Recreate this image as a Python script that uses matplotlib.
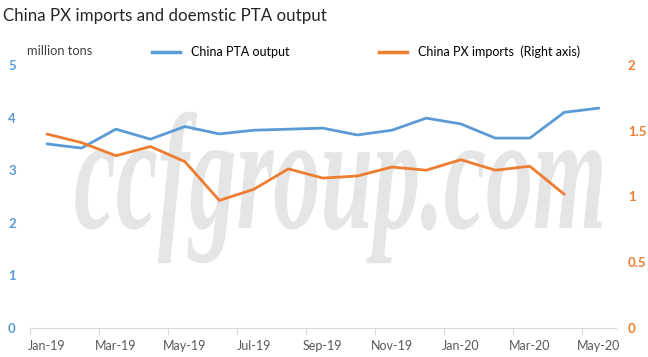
import matplotlib
matplotlib.use("Agg")
import matplotlib.pyplot as plt
import matplotlib.patheffects as pe
from matplotlib.transforms import Affine2D
from matplotlib.lines import Line2D

# 数据
months = ["Jan-19", "Feb-19", "Mar-19", "Apr-19", "May-19", "Jun-19", "Jul-19", "Aug-19",
          "Sep-19", "Oct-19", "Nov-19", "Dec-19", "Jan-20", "Feb-20", "Mar-20", "Apr-20", "May-20"]
pta_output = [3.50, 3.42, 3.78, 3.59, 3.83, 3.69, 3.76, 3.78,
              3.80, 3.67, 3.76, 3.99, 3.88, 3.61, 3.61, 4.10, 4.18]
px_imports = [1.475, 1.41, 1.31, 1.38, 1.265, 0.97, 1.055, 1.21,
              1.14, 1.156, 1.224, 1.20, 1.28, 1.20, 1.23, 1.017]

left_ticks = [0, 1, 2, 3, 4, 5]
right_ticks = [0, 0.5, 1, 1.5, 2]
right_labels = ["0", "0.5", "1", "1.5", "2"]

BLUE = "#5B9BD5"
ORANGE = "#ED7D31"
FONT = "Lato"
W, H = 648, 357


# 水印纵向拉伸（以基线为中心）
class StretchY(pe.AbstractPathEffect):
    def __init__(self, sy, y0):
        super().__init__()
        self.sy = sy
        self.y0 = y0

    def draw_path(self, renderer, gc, tpath, affine, rgbFace=None):
        t = affine + Affine2D().translate(0, -self.y0).scale(1, self.sy).translate(0, self.y0)
        renderer.draw_path(gc, tpath, t, rgbFace)


fig = plt.figure(figsize=(W / 100, H / 100), dpi=100)
ax = fig.add_axes([29.7 / W, 29 / H, (616 - 29.7) / W, (328 - 65) / H])
ax2 = ax.twinx()

# 水印
wm_base = H - 228
fig.text(340.5 / W, wm_base / H, "ccfgroup.com", fontsize=68, color="#e5e5e5",
         family="Liberation Serif", style="italic", weight="bold", ha="center",
         va="baseline", zorder=-5, path_effects=[StretchY(1.75, wm_base)])
ax.patch.set_visible(False)

x = list(range(len(months)))
ax.plot(x, pta_output, color=BLUE, lw=2.0, solid_capstyle="round", zorder=3)
ax2.plot(x[:len(px_imports)], px_imports, color=ORANGE, lw=2.0, solid_capstyle="round", zorder=3)

ax.set_xlim(-0.5, 16.5)
ax.set_ylim(0, 5)
ax2.set_ylim(0, 2)

# x 轴：刻度在类别之间，标签每两个月
ax.set_xticks([i - 0.5 for i in range(0, 17, 2)])
ax.set_xticklabels([])
ax.tick_params(axis="x", which="major", length=5, color="#d9d9d9", width=0.8)
ax.set_xticks(x[::2], minor=True)
ax.set_xticklabels(months[::2], minor=True, fontsize=9, color="#595959", family=FONT)
ax.tick_params(axis="x", which="minor", length=0, pad=9)

ax.set_yticks(left_ticks)
ax.set_yticklabels([str(t) for t in left_ticks], color=BLUE, fontsize=9.5,
                   fontweight="bold", family=FONT)
ax.tick_params(axis="y", length=0, pad=10)
ax2.set_yticks(right_ticks)
ax2.set_yticklabels(right_labels, color=ORANGE, fontsize=9.5, fontweight="bold", family=FONT)
ax2.tick_params(axis="y", length=0, pad=8.5)

for a in (ax, ax2):
    for s in ["top", "left", "right"]:
        a.spines[s].set_visible(False)
    a.spines["bottom"].set_color("#d9d9d9")
    a.spines["bottom"].set_linewidth(0.8)
ax2.spines["bottom"].set_visible(False)

fig.text(3 / W, 1 - 16 / H, "China PX imports and doemstic PTA output", fontsize=12.2,
         family=FONT, color="#262626", va="center", ha="left")
fig.text(27 / W, 1 - 51 / H, "million tons", fontsize=9.3, family=FONT,
         color="#404040", va="center", ha="left")

handles = [Line2D([], [], color=BLUE, lw=2.5), Line2D([], [], color=ORANGE, lw=2.5)]
fig.legend(handles, ["China PTA output", "China PX imports  (Right axis)"], ncol=2,
           loc="center left", bbox_to_anchor=(152 / W, 1 - 52 / H), frameon=False,
           prop={"family": FONT, "size": 9}, handlelength=2.2, handletextpad=0.9,
           columnspacing=7.2, borderpad=0, borderaxespad=0)

fig.savefig("out.png", dpi=100)
